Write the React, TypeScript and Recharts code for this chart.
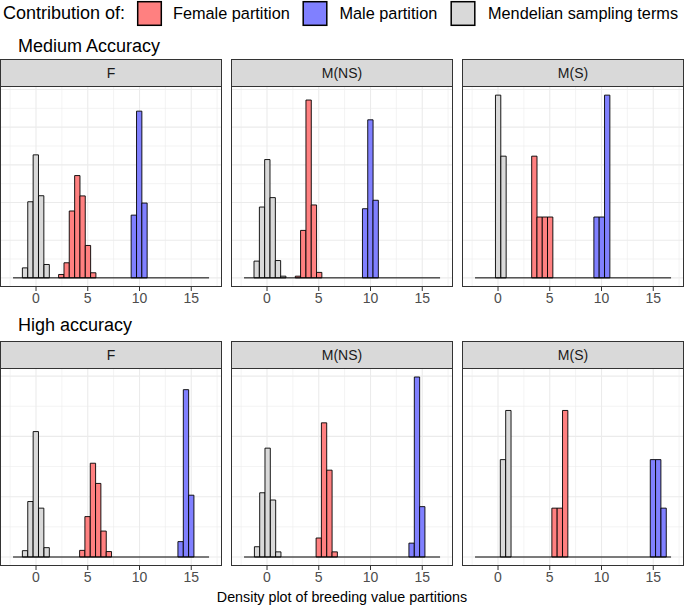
import React from "react";
import {
  ComposedChart,
  XAxis,
  YAxis,
  CartesianGrid,
  ReferenceArea,
  Line,
} from "recharts";

const FONT = '"Liberation Sans", Arial, Helvetica, sans-serif';

// shared x axis
const xTicks = [0, 5, 10, 15];
const xMinorBreaks = [-2.5, 2.5, 7.5, 12.5, 17.5];
const xDomain = [-3.48, 17.97];
const binWidth = 0.515;
const baseline = [
  { x: -2.22, y: 0 },
  { x: 16.72, y: 0 },
];

// y grid breaks per row (density units)
const medMajor = [0, 0.2, 0.4, 0.6, 0.8, 1.0];
const medMinor = [0.1, 0.3, 0.5, 0.7, 0.9];
const highMajor = [0, 0.2, 0.4, 0.6];
const highMinor = [0.1, 0.3, 0.5];
const medMax = 0.97;
const highMax = 0.597;

const partitions = ["Female partition", "Male partition", "Mendelian sampling terms"];
const partitionFill = ["#FF8080", "#8080FF", "#D9D9D9"];
const facets = ["F", "M(NS)", "M(S)"];
const accuracy = ["Medium Accuracy", "High accuracy"];

// Medium accuracy, F
const medF_femX = [2.44, 2.96, 3.47, 3.99, 4.5, 5.02, 5.53];
const medF_femY = [0.018, 0.08, 0.355, 0.543, 0.435, 0.172, 0.027];
const medF_maleX = [9.45, 9.97, 10.48];
const medF_maleY = [0.333, 0.885, 0.397];
const medF_mendX = [-1.06, -0.54, -0.02, 0.5, 1.03];
const medF_mendY = [0.053, 0.404, 0.653, 0.436, 0.071];

// Medium accuracy, M(NS)
const medNS_femX = [2.99, 3.5, 4.02, 4.53, 5.04];
const medNS_femY = [0.009, 0.252, 0.944, 0.387, 0.029];
const medNS_maleX = [9.48, 9.99, 10.5];
const medNS_maleY = [0.367, 0.839, 0.412];
const medNS_mendX = [-1.0, -0.48, 0.03, 0.55, 1.06, 1.57];
const medNS_mendY = [0.089, 0.376, 0.628, 0.426, 0.092, 0.009];

// Medium accuracy, M(S)
const medS_femX = [3.51, 4.02, 4.53, 5.04];
const medS_femY = [0.646, 0.323, 0.323, 0.323];
const medS_maleX = [9.52, 10.03, 10.55];
const medS_maleY = [0.323, 0.323, 0.97];
const medS_mendX = [0.01, 0.53];
const medS_mendY = [0.97, 0.646];

// High accuracy, F
const highF_femX = [4.47, 4.98, 5.5, 6.01, 6.53, 7.04];
const highF_femY = [0.022, 0.134, 0.311, 0.244, 0.086, 0.018];
const highF_maleX = [13.97, 14.49, 15.0];
const highF_maleY = [0.051, 0.555, 0.205];
const highF_mendX = [-1.06, -0.54, -0.02, 0.5, 1.03];
const highF_mendY = [0.021, 0.184, 0.416, 0.162, 0.031];

// High accuracy, M(NS)
const highNS_femX = [5.0, 5.51, 6.03, 6.54];
const highNS_femY = [0.063, 0.445, 0.288, 0.017];
const highNS_maleX = [13.97, 14.49, 15.0];
const highNS_maleY = [0.046, 0.597, 0.167];
const highNS_mendX = [-0.96, -0.45, 0.06, 0.58, 1.09];
const highNS_mendY = [0.034, 0.213, 0.361, 0.189, 0.017];

// High accuracy, M(S)
const highS_femX = [5.46, 5.97, 6.49];
const highS_femY = [0.162, 0.162, 0.486];
const highS_maleX = [14.97, 15.48, 16.0];
const highS_maleY = [0.323, 0.323, 0.162];
const highS_mendX = [0.48, 1.0];
const highS_mendY = [0.323, 0.486];

type Series = { xs: number[]; ys: number[]; fill: string };

const mk = (pairs: [number[], number[]][]): Series[] =>
  pairs.map(([xs, ys], i) => ({ xs, ys, fill: partitionFill[i] }));

const rows = [
  {
    title: accuracy[0],
    titleY: 52,
    stripTop: 59,
    plotTop: 86,
    plotH: 201,
    yMax: medMax,
    yMajor: medMajor,
    yMinor: medMinor,
    panels: [
      mk([[medF_femX, medF_femY], [medF_maleX, medF_maleY], [medF_mendX, medF_mendY]]),
      mk([[medNS_femX, medNS_femY], [medNS_maleX, medNS_maleY], [medNS_mendX, medNS_mendY]]),
      mk([[medS_femX, medS_femY], [medS_maleX, medS_maleY], [medS_mendX, medS_mendY]]),
    ],
  },
  {
    title: accuracy[1],
    titleY: 331,
    stripTop: 341,
    plotTop: 368,
    plotH: 198,
    yMax: highMax,
    yMajor: highMajor,
    yMinor: highMinor,
    panels: [
      mk([[highF_femX, highF_femY], [highF_maleX, highF_maleY], [highF_mendX, highF_mendY]]),
      mk([[highNS_femX, highNS_femY], [highNS_maleX, highNS_maleY], [highNS_mendX, highNS_mendY]]),
      mk([[highS_femX, highS_femY], [highS_maleX, highS_maleY], [highS_mendX, highS_mendY]]),
    ],
  },
];

const PANEL_W = 222;
const AXIS_H = 26;
const panelLeft = [0, 231, 462];

function HistPanel({
  series,
  yMax,
  yMajor,
  yMinor,
  plotH,
}: {
  series: Series[];
  yMax: number;
  yMajor: number[];
  yMinor: number[];
  plotH: number;
}) {
  return (
    <ComposedChart
      width={PANEL_W}
      height={plotH + AXIS_H}
      data={baseline}
      margin={{ top: 0, right: 0, bottom: 0, left: 0 }}
    >
      <CartesianGrid
        stroke="#EBEBEB"
        strokeWidth={0.6}
        verticalValues={xMinorBreaks}
        horizontalValues={yMinor}
      />
      <CartesianGrid
        stroke="#EBEBEB"
        strokeWidth={1.1}
        verticalValues={xTicks}
        horizontalValues={yMajor}
      />
      <XAxis
        type="number"
        dataKey="x"
        domain={xDomain}
        ticks={xTicks}
        interval={0}
        allowDataOverflow
        axisLine={false}
        tickLine={{ stroke: "#333333" }}
        tickSize={4}
        height={AXIS_H}
        tick={{ fill: "#4D4D4D", fontSize: 14, fontFamily: FONT }}
      />
      <YAxis
        hide
        type="number"
        domain={[-0.05 * yMax, 1.05 * yMax]}
        allowDataOverflow
      />
      {series.flatMap((s, si) =>
        s.xs.map((x, i) => (
          <ReferenceArea
            key={`${si}-${i}`}
            x1={x - binWidth / 2}
            x2={x + binWidth / 2}
            y1={0}
            y2={s.ys[i]}
            fill={s.fill}
            fillOpacity={1}
            stroke="#000000"
            strokeWidth={0.9}
          />
        ))
      )}
      <Line
        dataKey="y"
        stroke="#000000"
        strokeWidth={1}
        dot={false}
        isAnimationActive={false}
      />
    </ComposedChart>
  );
}

const legendKeys = [137.7, 303.2, 451.2];
const legendLabelX = [173, 339.5, 488];

export default function App() {
  return (
    <div
      style={{
        position: "absolute",
        left: 0,
        top: 0,
        width: 685,
        height: 608,
        background: "#FFFFFF",
        fontFamily: FONT,
      }}
    >
      {rows.map((row, r) =>
        row.panels.map((series, p) => (
          <div
            key={`${r}-${p}`}
            style={{ position: "absolute", left: panelLeft[p], top: row.plotTop }}
          >
            <HistPanel
              series={series}
              yMax={row.yMax}
              yMajor={row.yMajor}
              yMinor={row.yMinor}
              plotH={row.plotH}
            />
          </div>
        ))
      )}
      <svg
        width={685}
        height={608}
        style={{ position: "absolute", left: 0, top: 0, pointerEvents: "none" }}
        fontFamily={FONT}
      >
        <text x={3} y={19} fontSize={18} fill="#000">
          Contribution of:
        </text>
        {partitions.map((name, i) => (
          <g key={name}>
            <rect
              x={legendKeys[i]}
              y={1.7}
              width={23.6}
              height={23.6}
              fill={partitionFill[i]}
              stroke="#000"
              strokeWidth={1.5}
            />
            <text x={legendLabelX[i]} y={19} fontSize={16.3} fill="#000">
              {name}
            </text>
          </g>
        ))}
        {rows.map((row, r) => (
          <g key={`row-${r}`}>
            <text x={18} y={row.titleY} fontSize={18} fill="#000">
              {row.title}
            </text>
            {facets.map((f, p) => (
              <g key={f}>
                <rect
                  x={panelLeft[p] + 0.5}
                  y={row.stripTop + 0.5}
                  width={PANEL_W - 1}
                  height={row.plotTop - row.stripTop}
                  fill="#D9D9D9"
                  stroke="#333333"
                  strokeWidth={1}
                />
                <text
                  x={panelLeft[p] + PANEL_W / 2}
                  y={row.stripTop + 19}
                  fontSize={14}
                  fill="#1A1A1A"
                  textAnchor="middle"
                >
                  {f}
                </text>
                <rect
                  x={panelLeft[p] + 0.5}
                  y={row.plotTop + 0.5}
                  width={PANEL_W - 1}
                  height={row.plotH - 1}
                  fill="none"
                  stroke="#333333"
                  strokeWidth={1}
                />
              </g>
            ))}
          </g>
        ))}
        <text x={342} y={601.5} fontSize={14.3} fill="#000" textAnchor="middle">
          Density plot of breeding value partitions
        </text>
      </svg>
    </div>
  );
}
